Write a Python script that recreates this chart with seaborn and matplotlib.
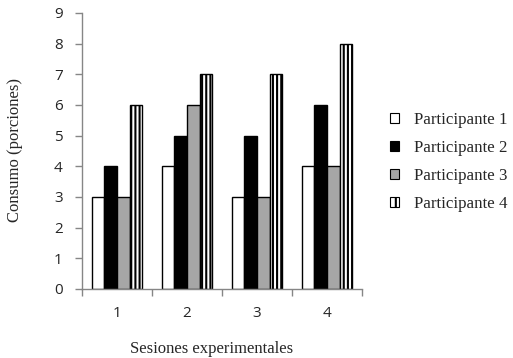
import matplotlib
matplotlib.use("Agg")
import matplotlib.pyplot as plt
import seaborn as sns
import pandas as pd
from matplotlib.patches import Patch
from matplotlib.ticker import FixedLocator

sesiones = ["1", "2", "3", "4"]
participantes = ["Participante 1", "Participante 2", "Participante 3", "Participante 4"]
p1 = [3, 4, 3, 4]
p2 = [4, 5, 5, 6]
p3 = [3, 6, 3, 4]
p4 = [6, 7, 7, 8]

rows = []
for name, vals in zip(participantes, [p1, p2, p3, p4]):
    for s, v in zip(sesiones, vals):
        rows.append({"Sesion": s, "Participante": name, "Consumo": v})
df = pd.DataFrame(rows)

sns.set_style("white")
plt.rcParams["hatch.linewidth"] = 1.5
plt.rcParams["hatch.color"] = "black"

fig = plt.figure(figsize=(5.13, 3.58), dpi=100)
ax = fig.add_axes([82/513, 1-289/358, (362-82)/513, (289-13)/358])

colors = ["white", "black", "#a6a6a6", "white"]
sns.barplot(data=df, x="Sesion", y="Consumo", hue="Participante", order=sesiones,
            hue_order=participantes, palette=colors, width=0.72, ax=ax,
            edgecolor="black", linewidth=1.0, legend=False)

hatches = ["", "", "", "||||"]
for cont, h in zip(ax.containers, hatches):
    for bar in cont:
        bar.set_hatch(h)

ax.set_xlim(-0.5, 3.5)
ax.set_ylim(0, 9)
ax.set_yticks(range(10))
ax.set_yticklabels([str(i) for i in range(10)], fontfamily="Open Sans", fontsize=11)
ax.set_xticks(range(4))
ax.set_xticklabels(sesiones, fontfamily="Open Sans", fontsize=11)
ax.xaxis.set_minor_locator(FixedLocator([-0.5, 0.5, 1.5, 2.5, 3.5]))
ax.tick_params(axis="x", which="major", length=0, pad=12)
ax.tick_params(axis="x", which="minor", length=5, color="#868686", width=1, direction="out", bottom=True)
ax.tick_params(axis="y", which="major", length=5, color="#868686", width=1, direction="out", left=True, pad=9)

for side in ["top", "right"]:
    ax.spines[side].set_visible(False)
for side in ["left", "bottom"]:
    ax.spines[side].set_color("#868686")
    ax.spines[side].set_linewidth(1)

ax.set_xlabel("")
ax.set_ylabel("")
fig.text(212/513, 1-349/358, "Sesiones experimentales", ha="center", va="center",
         fontfamily="Liberation Serif", fontsize=12)
fig.text(15/513, 1-150/358, "Consumo (porciones)", ha="center", va="center", rotation=90,
         fontfamily="Liberation Serif", fontsize=12)

handles = [Patch(facecolor=c, edgecolor="black", hatch=h, linewidth=0.8)
           for c, h in zip(colors, ["", "", "", "||"])]
leg = fig.legend(handles, participantes, loc="upper left", bbox_to_anchor=(383/513, 1-105/358),
                 frameon=False, prop={"family": "Liberation Serif", "size": 12.2},
                 handlelength=0.55, handleheight=0.55, handletextpad=0.85, labelspacing=0.72,
                 borderpad=0.4, borderaxespad=0.0)

fig.savefig("out.png", dpi=100)
